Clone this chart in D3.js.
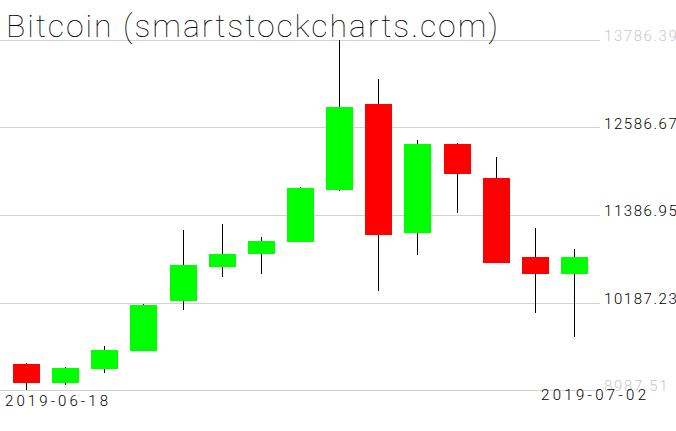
<!DOCTYPE html>
<html>
<head>
<meta charset="utf-8">
<script src="https://cdn.jsdelivr.net/npm/d3@7"></script>
<style>
  body { margin: 0; background: #fff; }
  svg { display: block; }
  text { font-family: Roboto, "DejaVu Sans", sans-serif; font-weight: 300; }
  .title { font-weight: 100; }
</style>
</head>
<body>
<script>
// daily candles
var dates = ['2019-06-18', '2019-06-19', '2019-06-20', '2019-06-21', '2019-06-22',
  '2019-06-23', '2019-06-24', '2019-06-25', '2019-06-26', '2019-06-27',
  '2019-06-28', '2019-06-29', '2019-06-30', '2019-07-01', '2019-07-02']
var open = [9344, 9088, 9280, 9526, 10212, 10678, 10856, 11021, 11733, 12909, 11144, 12360, 11894, 10811, 10582]
var high = [9358, 9303, 9595, 10160, 11181, 11264, 11085, 11771, 13786.39, 13252, 12415, 12374, 12182, 11209, 10921]
var low = [8987.51, 9060, 9225, 9520, 10088, 10541, 10582, 11015, 11720, 10349, 10842, 11418, 10722, 10047, 9710]
var close = [9088, 9289, 9536, 10153, 10701, 10852, 11031, 11757, 12868, 11117, 12360, 11949, 10733, 10582, 10811]

var yTicks = ['8987.51', '10187.23', '11386.95', '12586.67', '13786.39']
var xLabels = ['2019-06-18', '2019-07-02']

var width = 676, height = 431

var candles = dates.map(function(d, i) {
  return { date: d, o: open[i], h: high[i], l: low[i], c: close[i] }
})

var svg = d3.select('body').append('svg')
  .attr('width', width)
  .attr('height', height)

var x = d3.scalePoint().domain(dates).range([26.5, 574.5])
var y = d3.scaleLinear()
  .domain([+yTicks[0], +yTicks[yTicks.length - 1]])
  .range([390, 40])

var bodyW = 27

// grid + price labels on the right
var grid = svg.append('g')
grid.selectAll('line')
  .data(yTicks)
  .enter().append('line')
  .attr('x1', 0).attr('x2', 600)
  .attr('y1', d => Math.round(y(+d)) + 0.5)
  .attr('y2', d => Math.round(y(+d)) + 0.5)
  .attr('stroke', '#d3d3d3')
  .attr('stroke-width', 1)

grid.selectAll('text')
  .data(yTicks)
  .enter().append('text')
  .attr('x', 604)
  .attr('y', d => y(+d) + 1)
  .attr('font-size', 15)
  .attr('textLength', d => d.length * 9.1)
  .attr('lengthAdjust', 'spacing')
  .attr('fill', (d, i) => (i === 0 || i === yTicks.length - 1) ? '#c8c8c8' : '#000')
  .text(d => d)

// title
svg.append('text')
  .attr('class', 'title')
  .attr('x', 6)
  .attr('y', 37)
  .attr('font-size', 32)
  .attr('textLength', 492)
  .attr('lengthAdjust', 'spacing')
  .text('Bitcoin (smartstockcharts.com)')

// candles
var g = svg.append('g').attr('shape-rendering', 'crispEdges')

g.selectAll('line.wick')
  .data(candles)
  .enter().append('line')
  .attr('class', 'wick')
  .attr('x1', d => Math.floor(x(d.date)) + 0.5)
  .attr('x2', d => Math.floor(x(d.date)) + 0.5)
  .attr('y1', d => y(d.h))
  .attr('y2', d => y(d.l))
  .attr('stroke', '#000')

g.selectAll('rect.body')
  .data(candles)
  .enter().append('rect')
  .attr('class', 'body')
  .attr('x', d => Math.floor(x(d.date)) - 13)
  .attr('width', bodyW)
  .attr('y', d => y(Math.max(d.o, d.c)))
  .attr('height', d => Math.max(1, y(Math.min(d.o, d.c)) - y(Math.max(d.o, d.c))))
  .attr('fill', d => d.c >= d.o ? '#00ff00' : '#ff0000')

// first / last date
svg.append('text')
  .attr('x', 5)
  .attr('y', 406)
  .attr('font-size', 15)
  .attr('textLength', 103)
  .attr('lengthAdjust', 'spacing')
  .text(xLabels[0])

svg.append('text')
  .attr('x', 541)
  .attr('y', 400)
  .attr('font-size', 15)
  .attr('textLength', 105)
  .attr('lengthAdjust', 'spacing')
  .text(xLabels[1])
</script>
</body>
</html>
